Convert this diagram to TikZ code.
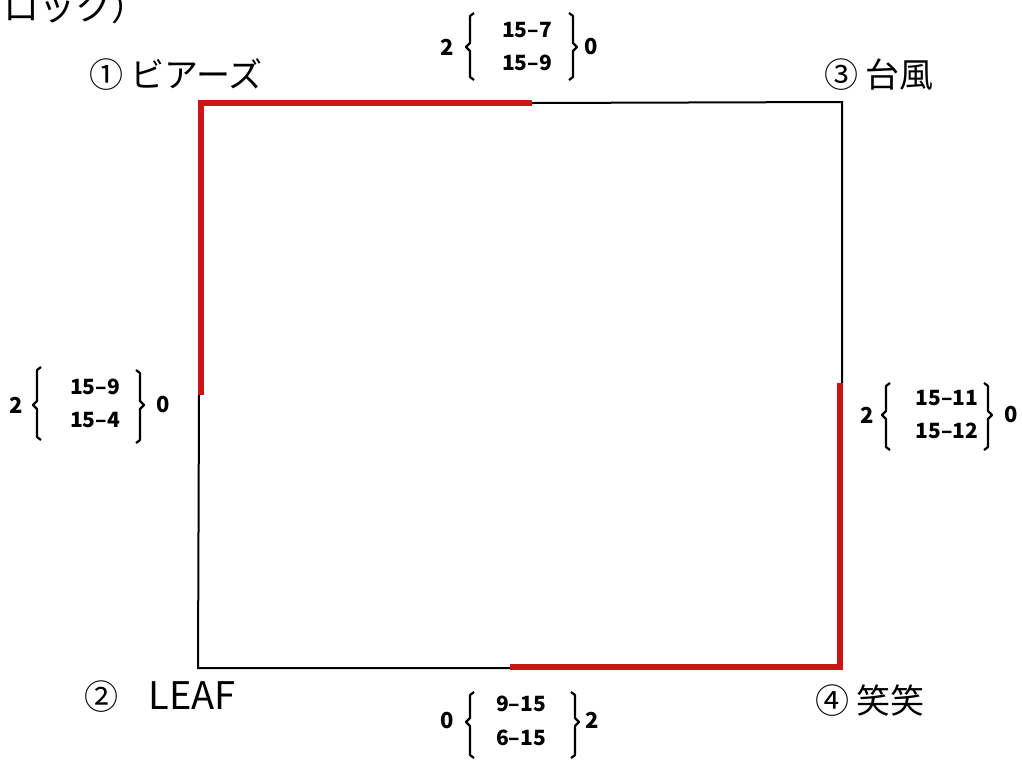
\documentclass[tikz,border=0pt]{standalone}
\usepackage{fontspec}
\newfontfamily\jp{Noto Sans CJK JP}
\definecolor{redline}{RGB}{204,20,20}
\begin{document}
\begin{tikzpicture}[x=0.5pt,y=-0.5pt,
  thinline/.style={line width=1pt,black},
  redthick/.style={line width=3.2pt,redline,line join=miter},
  bracepath/.style={line width=1.1pt,black,line join=round},
  team/.style={inner sep=0pt,font={\jp\fontsize{17pt}{19pt}\selectfont}},
  scoretxt/.style={inner sep=0pt,font={\jp\bfseries\fontsize{10.5pt}{12pt}\selectfont}, align=center},
  setnum/.style={inner sep=0pt,font={\jp\bfseries\fontsize{11pt}{12pt}\selectfont}}]
\useasboundingbox (0,0) rectangle (1022,761);
\clip (0,0) rectangle (1022,761);
% partial title at the top
\node[team, anchor=south east, font={\jp\fontsize{18pt}{20pt}\selectfont}] (title) at (148,24) {ブロック）};
% corners and split points
\coordinate (tl) at (201,103);
\coordinate (tm) at (532,103);
\coordinate (tr) at (842,102);
\coordinate (rm) at (842,383);
\coordinate (br) at (840,667);
\coordinate (bm) at (510,667);
\coordinate (bl) at (198,668);
\coordinate (lm) at (199,395);
% black lines
\draw[thinline] (tm) -- (tr) -- (rm);
\draw[thinline] (bm |- bl) -- (bl) -- (lm);
% red lines
\draw[redthick] (lm -| tl) -- (tl) -- (tm);
\draw[redthick] (rm -| br) -- (br) -- (bm);
% team labels
\node[team] (t1) at (176,75) {① ビアーズ};
\node[team] (t3) at (879,75) {③ 台風};
\node[team] (t2) at (160,697) {②\hspace{0.9em}{\fontsize{19pt}{21pt}\selectfont LEAF}};
\node[team] (t4) at (870,701) {④ 笑笑};
% top score
\node[setnum] (s1l) at (447,47) {2};
\node[scoretxt] (s1a) at (527,30) {15–7};
\node[scoretxt] (s1b) at (527,63) {15–9};
\node[setnum] (s1r) at (591,47) {0};
\draw[bracepath] (474,13) -- (470,16) -- (470,43) -- (466,47) -- (470,51) -- (470,77) -- (474,80);
\draw[bracepath] (569,13) -- (573,16) -- (573,43) -- (577,47) -- (573,51) -- (573,77) -- (569,80);
% left score
\node[setnum] (s2l) at (16,405) {2};
\node[scoretxt] (s2a) at (95,387) {15–9};
\node[scoretxt] (s2b) at (95,420) {15–4};
\node[setnum] (s2r) at (163,405) {0};
\draw[bracepath] (41,367) -- (37,370) -- (37,401) -- (33,405) -- (37,409) -- (37,437) -- (41,440);
\draw[bracepath] (136,370) -- (140,373) -- (140,401) -- (144,405) -- (140,409) -- (140,440) -- (136,443);
% right score
\node[setnum] (s3l) at (867,415) {2};
\node[scoretxt] (s3a) at (947,398) {15–11};
\node[scoretxt] (s3b) at (947,431) {15–12};
\node[setnum] (s3r) at (1011,415) {0};
\draw[bracepath] (890,383) -- (886,386) -- (886,411) -- (882,415) -- (886,419) -- (886,447) -- (890,450);
\draw[bracepath] (984,383) -- (988,386) -- (988,411) -- (992,415) -- (988,419) -- (988,447) -- (984,450);
% bottom score
\node[setnum] (s4l) at (447,720) {0};
\node[scoretxt] (s4a) at (521,704) {9–15};
\node[scoretxt] (s4b) at (521,738) {6–15};
\node[setnum] (s4r) at (592,720) {2};
\draw[bracepath] (474,692) -- (470,695) -- (470,718) -- (466,722) -- (470,726) -- (470,755) -- (474,758);
\draw[bracepath] (571,692) -- (575,695) -- (575,718) -- (579,722) -- (575,726) -- (575,755) -- (571,758);
\end{tikzpicture}
\end{document}
